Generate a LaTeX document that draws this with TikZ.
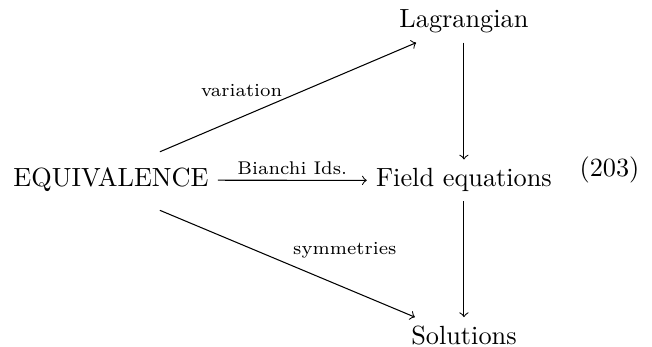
\documentclass[tikz,border=0pt]{standalone}
\usepackage{tikz}
\usetikzlibrary{positioning,arrows}
\tikzset{
  term/.style = {anchor=base},
  lbl/.style  = {font=\scriptsize, inner sep=2pt},
  edge/.style = {->, thin}
}
\begin{document}
\begin{tikzpicture}[->]
  \useasboundingbox (0,0) rectangle (8.717,-4.639);
  \node[term] (eq)  at (1.484,-2.500) {EQUIVALENCE};
  \node[term] (fe)  at (6.203,-2.500) {Field equations};
  \node[term] (lag) at (6.203,-0.374) {Lagrangian};
  \node[term] (sol) at (6.203,-4.612) {Solutions};
  \node[term] (num) at (8.149,-2.366) {(203)};
  \path (eq) edge[edge] node[lbl, above] {Bianchi Ids.} (fe)
        (lag) edge[edge] (fe)
        (fe) edge[edge] (sol);
  \path ([shift={(18.6pt,2.7pt)}]eq.north) edge[edge]
          node[lbl, above left, pos=0.5, yshift=-2pt] {variation} ([xshift=9.9pt]lag.south west)
        ([shift={(18.6pt,-3.4pt)}]eq.south) edge[edge]
          node[lbl, above right, pos=0.5] {symmetries} ([xshift=4.9pt]sol.north west);
\end{tikzpicture}
\end{document}
